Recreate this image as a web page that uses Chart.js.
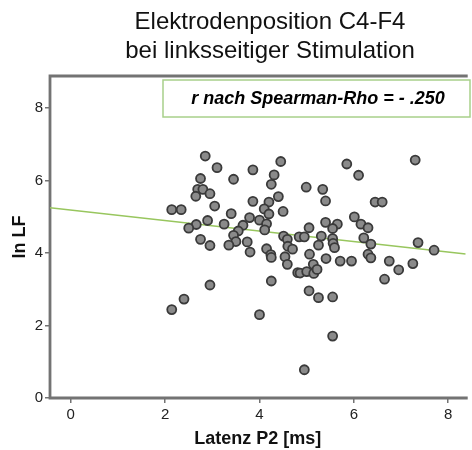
<!DOCTYPE html>
<html>
<head>
<meta charset="utf-8">
<script src="https://cdn.jsdelivr.net/npm/chart.js@4/dist/chart.umd.min.js"></script>
<style>
  html, body { margin: 0; padding: 0; background: #ffffff; }
  #wrap { width: 472px; height: 450px; position: relative; overflow: hidden; }
</style>
</head>
<body>
<div id="wrap"><canvas id="myChart" width="472" height="450"></canvas></div>
<script>
// chart texts
const titleLines = ["Elektrodenposition C4-F4", "bei linksseitiger Stimulation"];
const annotationText = "r nach Spearman-Rho = - .250";
const xAxisTitle = "Latenz P2 [ms]";
const yAxisTitle = "ln LF";

// tick labels
const xTickValues = [0, 2, 4, 6, 8];
const yTickValues = [0, 2, 4, 6, 8];

// Latenz P2 [ms] (x) and ln LF (y)
const latency = [
    2.85, 3.10, 2.75, 3.45, 2.69, 2.80, 2.95, 2.65, 3.05, 2.14,
    2.34, 3.40, 2.90, 2.66, 2.50, 3.25, 3.65, 3.55, 3.45, 2.75,
    3.50, 2.95, 3.35, 3.74, 3.79, 3.80, 4.45, 3.86, 4.31, 5.85,
    4.25, 4.99, 5.34, 3.86, 4.20, 4.40, 5.40, 4.10, 4.20, 4.50,
    4.00, 4.15, 5.40, 5.65, 5.55, 5.05, 4.11, 4.51, 4.84, 4.95,
    5.31, 5.55, 4.59, 5.56, 4.60, 5.25, 5.59, 4.70, 4.15, 4.24,
    4.25, 4.54, 5.06, 5.41, 5.71, 4.59, 5.14, 4.81, 4.86, 5.00,
    5.15, 5.22, 4.25, 5.05, 5.25, 5.55, 4.00, 5.55, 4.95, 2.95,
    2.40, 2.14, 7.30, 6.10, 6.45, 6.60, 6.01, 6.15, 6.30, 6.21,
    6.36, 7.36, 7.70, 5.95, 6.30, 6.36, 6.75, 7.25, 6.95, 6.65,
];
const lnLF = [
    6.68, 6.36, 6.06, 6.04, 5.76, 5.76, 5.64, 5.57, 5.30, 5.20,
    5.20, 5.09, 4.90, 4.79, 4.69, 4.80, 4.77, 4.61, 4.49, 4.38,
    4.32, 4.21, 4.22, 4.31, 4.98, 4.03, 6.53, 6.30, 6.16, 6.46,
    5.90, 5.82, 5.76, 5.43, 5.41, 5.56, 5.44, 5.22, 5.08, 5.15,
    4.91, 4.81, 4.85, 4.80, 4.68, 4.70, 4.64, 4.47, 4.45, 4.45,
    4.47, 4.40, 4.38, 4.27, 4.19, 4.22, 4.15, 4.11, 4.12, 3.96,
    3.88, 3.90, 3.97, 3.85, 3.78, 3.69, 3.69, 3.46, 3.45, 3.49,
    3.44, 3.55, 3.23, 2.96, 2.77, 2.79, 2.30, 1.71, 0.78, 3.12,
    2.73, 2.44, 6.57, 6.15, 5.41, 5.41, 5.00, 4.80, 4.70, 4.42,
    4.25, 4.29, 4.08, 3.78, 3.97, 3.87, 3.78, 3.71, 3.54, 3.28,
];

// fit line (intercept, slope) and axis ranges
const fitIntercept = 5.19;
const fitSlope = -0.145;
const xMin = -0.44, xMax = 8.37;
const yMin = 0, yMax = 8.89;

const green = "#98c65e";
const frameGrey = "#737373";
const fontFamily = "'Liberation Sans', Arial, sans-serif";

const points = latency.map((x, i) => ({ x: x, y: lnLF[i] }));
const fitLine = [xMin, xMax].map((x) => ({ x: x, y: fitIntercept + fitSlope * x }));

// frame, title and the Spearman box
const decorations = {
    id: "decorations",
    beforeDatasetsDraw(chart) {
        const { ctx, chartArea: a } = chart;
        ctx.save();
        ctx.strokeStyle = frameGrey;
        ctx.lineWidth = 2.8;
        ctx.beginPath();
        ctx.moveTo(a.right + 2, a.top);
        ctx.lineTo(a.left, a.top);
        ctx.lineTo(a.left, a.bottom);
        ctx.lineTo(a.right + 2, a.bottom);
        ctx.stroke();
        ctx.restore();
    },
    afterDraw(chart) {
        const { ctx } = chart;
        ctx.save();
        // title
        ctx.fillStyle = "#111";
        ctx.font = "24px " + fontFamily;
        ctx.textAlign = "center";
        ctx.textBaseline = "middle";
        ctx.fillText(titleLines[0], 270, 22);
        ctx.fillText(titleLines[1], 270, 51);
        // annotation box
        ctx.fillStyle = "#ffffff";
        ctx.fillRect(163, 80, 307, 37);
        ctx.strokeStyle = "#a8d08a";
        ctx.lineWidth = 1.5;
        ctx.strokeRect(163, 80, 307, 37);
        ctx.fillStyle = "#000";
        ctx.font = "italic bold 18px " + fontFamily;
        ctx.fillText(annotationText, 318, 99);
        ctx.restore();
    },
};

const ctx = document.getElementById("myChart").getContext("2d");
const chart = new Chart(ctx, {
    type: "scatter",
    data: {
        datasets: [
            {
                label: "ln LF",
                data: points,
                pointRadius: 4.5,
                pointBackgroundColor: "#8a8a8a",
                pointBorderColor: "#3a3a3a",
                pointBorderWidth: 1.8,
                order: 0,
            },
            {
                type: "line",
                label: "Fit",
                data: fitLine,
                borderColor: green,
                borderWidth: 1.5,
                pointRadius: 0,
                fill: false,
                order: 1,
            },
        ],
    },
    options: {
        responsive: false,
        animation: false,
        layout: { padding: { top: 76, left: 0, right: 0, bottom: 0 } },
        plugins: {
            legend: { display: false },
            tooltip: { enabled: false },
        },
        scales: {
            x: {
                type: "linear",
                min: xMin,
                max: xMax,
                afterBuildTicks: (scale) => {
                    scale.ticks = xTickValues.map((v) => ({ value: v }));
                },
                afterFit: (scale) => {
                    scale.height = 52;
                },
                grid: {
                    drawOnChartArea: false,
                    tickLength: 5,
                    color: frameGrey,
                    lineWidth: 1.5,
                },
                border: { display: false },
                ticks: {
                    padding: 3,
                    color: "#222",
                    font: { family: fontFamily, size: 15 },
                },
                title: {
                    display: true,
                    text: xAxisTitle,
                    color: "#111",
                    padding: { top: 0, bottom: 0 },
                    font: { family: fontFamily, size: 18, weight: "bold" },
                },
            },
            y: {
                type: "linear",
                min: yMin,
                max: yMax,
                afterBuildTicks: (scale) => {
                    scale.ticks = yTickValues.map((v) => ({ value: v }));
                },
                afterFit: (scale) => {
                    scale.width = 50;
                },
                grid: {
                    drawOnChartArea: false,
                    tickLength: 5,
                    color: frameGrey,
                    lineWidth: 1.5,
                },
                border: { display: false },
                ticks: {
                    padding: 2,
                    color: "#222",
                    font: { family: fontFamily, size: 15 },
                },
                title: {
                    display: true,
                    text: yAxisTitle,
                    color: "#111",
                    padding: { top: 9, bottom: 0 },
                    font: { family: fontFamily, size: 18, weight: "bold" },
                },
            },
        },
    },
    plugins: [decorations],
});
</script>
</body>
</html>
